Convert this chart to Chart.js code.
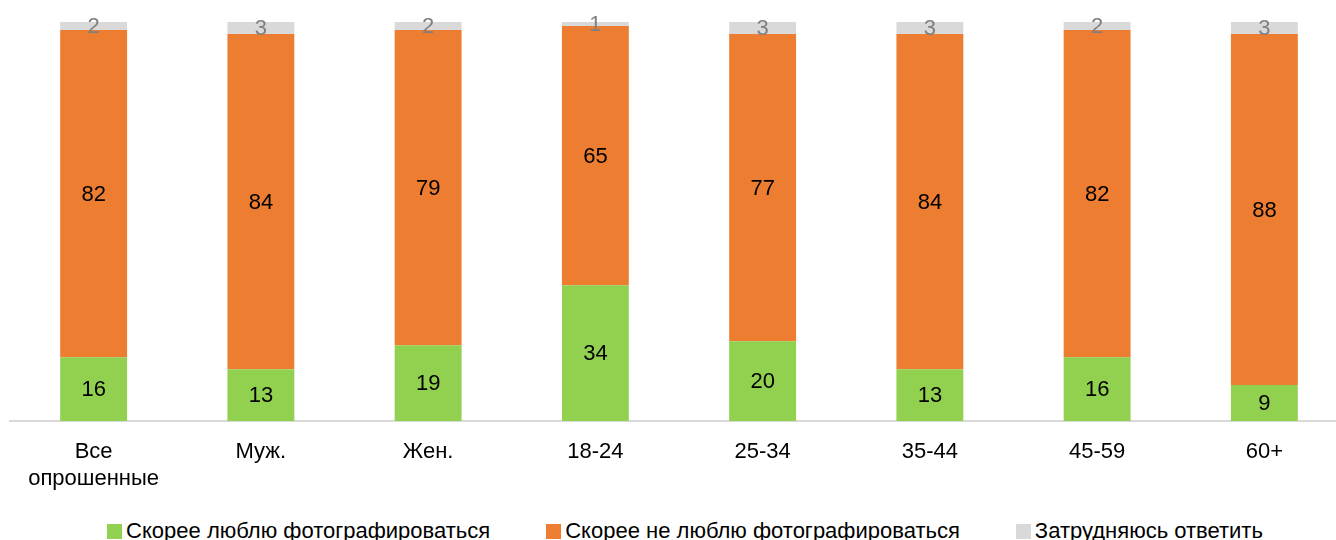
<!DOCTYPE html>
<html>
<head>
<meta charset="utf-8">
<script src="https://cdn.jsdelivr.net/npm/chart.js@4"></script>
<style>
  html, body { margin: 0; padding: 0; background: #fff; overflow: hidden; }
  #wrap { position: relative; width: 1348px; height: 540px; }
  #box { position: absolute; left: 0; top: 0; width: 1348px; height: 510px; }
  #legend { position: absolute; left: 0; top: 518px; width: 1370px; display: flex; justify-content: center;
            font-family: "Liberation Sans", Arial, sans-serif; font-size: 22px; color: #000; white-space: nowrap; }
  #legend .item { display: flex; align-items: center; margin: 0 28px; }
  #legend .sw { width: 15px; height: 15px; margin-right: 4px; }
</style>
</head>
<body>
<div id="wrap">
  <div id="box"><canvas id="chart"></canvas></div>
  <div id="legend"></div>
</div>
<script>
// categories and values
const categories = [["Все", "опрошенные"], "Муж.", "Жен.", "18-24", "25-34", "35-44", "45-59", "60+"];
const likeValues = [16, 13, 19, 34, 20, 13, 16, 9];
const dislikeValues = [82, 84, 79, 65, 77, 84, 82, 88];
const unsureValues = [2, 3, 2, 1, 3, 3, 2, 3];
const seriesNames = ["Скорее люблю фотографироваться", "Скорее не люблю фотографироваться", "Затрудняюсь ответить"];
const seriesColors = ["#92D050", "#ED7D31", "#D9D9D9"];
const labelColors = ["#000000", "#000000", "#7F7F7F"];

const FONT = '"Liberation Sans", Arial, sans-serif';

// draws the value inside every segment
const valueLabels = {
  id: "valueLabels",
  afterDatasetsDraw(chart) {
    const ctx = chart.ctx;
    ctx.save();
    ctx.font = "22px " + FONT;
    ctx.textAlign = "center";
    ctx.textBaseline = "middle";
    chart.data.datasets.forEach((ds, i) => {
      const meta = chart.getDatasetMeta(i);
      meta.data.forEach((bar, j) => {
        const mid = (bar.y + bar.base) / 2;
        ctx.fillStyle = labelColors[i];
        ctx.fillText(String(ds.data[j]), bar.x, mid + 1);
      });
    });
    ctx.restore();
  }
};

new Chart(document.getElementById("chart"), {
  type: "bar",
  data: {
    labels: categories,
    datasets: [
      { label: seriesNames[0], data: likeValues, backgroundColor: seriesColors[0] },
      { label: seriesNames[1], data: dislikeValues, backgroundColor: seriesColors[1] },
      { label: seriesNames[2], data: unsureValues, backgroundColor: seriesColors[2] }
    ]
  },
  options: {
    responsive: true,
    maintainAspectRatio: false,
    animation: false,
    layout: { padding: { left: 10, right: 0, top: 22, bottom: 0 } },
    datasets: { bar: { categoryPercentage: 1, barPercentage: 0.4 } },
    plugins: {
      legend: { display: false },
      tooltip: { enabled: false }
    },
    scales: {
      x: {
        stacked: true,
        grid: { display: false, drawTicks: false },
        border: { color: "#D9D9D9", width: 2 },
        ticks: { color: "#000", font: { family: FONT, size: 22, lineHeight: 1.25 }, padding: 17, maxRotation: 0 }
      },
      y: {
        stacked: true,
        display: false,
        min: 0,
        max: 100
      }
    }
  },
  plugins: [valueLabels]
});

// html legend
const legend = document.getElementById("legend");
seriesNames.forEach((name, i) => {
  const item = document.createElement("div");
  item.className = "item";
  const sw = document.createElement("span");
  sw.className = "sw";
  sw.style.background = seriesColors[i];
  const txt = document.createElement("span");
  txt.textContent = name;
  item.appendChild(sw);
  item.appendChild(txt);
  legend.appendChild(item);
});
</script>
</body>
</html>
